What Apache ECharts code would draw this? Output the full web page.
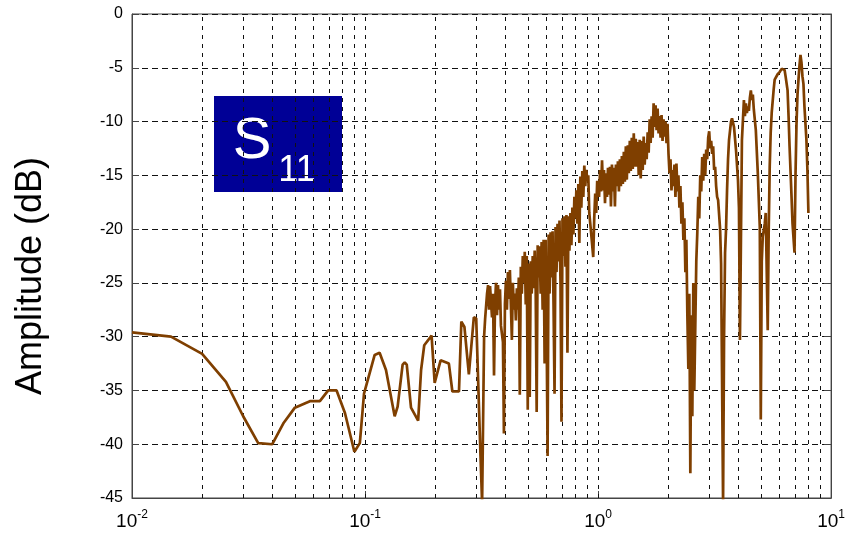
<!DOCTYPE html>
<html>
<head>
<meta charset="utf-8">
<script src="https://cdn.jsdelivr.net/npm/echarts@6/dist/echarts.min.js"></script>
<style>
  html, body { margin: 0; padding: 0; background: #fff; }
  #chart { width: 848px; height: 533px; }
</style>
</head>
<body>
<div id="chart"></div>
<script>
// frequency (log axis) and S11 amplitude in dB, in three stretches
const freqLow = [
  0.01, 0.0147, 0.02, 0.0253, 0.03, 0.0348, 0.04, 0.0448, 0.05, 0.058,
  0.064, 0.0695, 0.0755, 0.082, 0.09, 0.095, 0.099, 0.11, 0.1155, 0.123,
  0.134, 0.138, 0.145, 0.148, 0.151, 0.1575, 0.169, 0.174, 0.1795, 0.193,
  0.199, 0.211, 0.229, 0.237, 0.253, 0.259, 0.267, 0.279, 0.293, 0.300,
  0.313
];
const s11Low = [
  -29.6, -30.0, -31.6, -34.2, -37.4, -39.9, -40.0, -38.0, -36.6, -36.0,
  -36.0, -35.0, -35.0, -37.1, -40.7, -39.9, -35.3, -31.7, -31.5, -33.1,
  -37.4, -36.5, -32.6, -32.4, -32.6, -36.6, -37.8, -33.1, -30.8, -29.9,
  -34.3, -32.2, -32.5, -35.1, -35.1, -28.6, -29.1, -33.5, -28.2, -28.3,
  -41.1
];
const freqMid = [
  0.318, 0.3243, 0.3275, 0.3339, 0.3373, 0.3406, 0.3439, 0.3507, 0.3542, 0.3577,
  0.3612, 0.3648, 0.3684, 0.3720, 0.3757, 0.3794, 0.3831, 0.3907, 0.3945, 0.3984,
  0.4023, 0.4063, 0.4103, 0.4143, 0.4184, 0.4225, 0.4267, 0.4309, 0.4352, 0.4395,
  0.4438, 0.4482, 0.4526, 0.4570, 0.4615, 0.4661, 0.4707, 0.4753, 0.4800, 0.4847,
  0.4895, 0.4943, 0.4992, 0.5041, 0.5091, 0.5141, 0.5192, 0.5243, 0.5294, 0.5346,
  0.5399, 0.5452, 0.5506, 0.5560, 0.5615, 0.5670, 0.5726, 0.5783, 0.5840, 0.5897,
  0.5955, 0.6014, 0.6073, 0.6134, 0.6194, 0.6255, 0.6316, 0.6379, 0.6441, 0.6505,
  0.6569, 0.6634, 0.6699, 0.6765, 0.6832, 0.6899, 0.6967, 0.7036, 0.7105, 0.7175,
  0.7245, 0.7317, 0.7389, 0.7462, 0.7535, 0.7609, 0.7684, 0.7760, 0.7837, 0.7914,
  0.7992, 0.8070, 0.8150, 0.8230, 0.8311, 0.8393, 0.8476, 0.8560, 0.8644, 0.8729,
  0.8815, 0.8902, 0.8990, 0.9078, 0.9168, 0.9349, 0.9534, 0.9628, 0.9723, 0.9818,
  0.9915
];
const s11Mid = [
  -45.5, -30.0, -28.4, -26.0, -25.2, -27.5, -25.3, -28.2, -26.0, -33.6,
  -27.0, -25.0, -28.0, -25.2, -27.5, -25.6, -29.0, -30.5, -39.0, -27.0,
  -24.8, -27.5, -24.0, -26.5, -23.8, -27.0, -30.3, -25.0, -27.5, -26.0,
  -28.5, -25.5, -27.5, -24.5, -35.4, -23.5, -26.0, -22.5, -25.0, -22.1,
  -27.0, -22.5, -36.8, -23.2, -35.6, -23.0, -26.0, -22.5, -25.5, -22.0,
  -25.6, -37.0, -21.5, -24.5, -21.6, -26.0, -21.2, -27.5, -21.0, -32.5,
  -21.0, -29.0, -41.1, -20.5, -26.0, -20.3, -24.5, -20.2, -27.0, -35.3,
  -19.8, -24.0, -19.5, -23.0, -19.2, -25.0, -37.9, -19.0, -22.5, -18.8,
  -23.5, -18.7, -31.5, -18.8, -22.0, -18.5, -21.5, -18.0, -20.5, -17.0,
  -19.0, -16.4, -19.5, -15.8, -21.3, -15.1, -18.0, -14.6, -17.0, -14.1,
  -16.0, -14.5, -15.4, -15.0, -18.5, -20.5, -22.6, -19.0, -16.7, -18.5,
  -15.5
];
const freqHigh = [
  1.0098, 1.0198, 1.0299, 1.0400, 1.0502, 1.0605, 1.0710, 1.0815, 1.0922, 1.1029,
  1.1138, 1.1248, 1.1359, 1.1470, 1.1583, 1.1697, 1.1813, 1.1929, 1.2047, 1.2166,
  1.2285, 1.2406, 1.2528, 1.2652, 1.2776, 1.2902, 1.3030, 1.3158, 1.3287, 1.3418,
  1.3550, 1.3684, 1.3819, 1.3955, 1.4092, 1.4231, 1.4371, 1.4513, 1.4656, 1.4800,
  1.4946, 1.5094, 1.5242, 1.5393, 1.5544, 1.5697, 1.5852, 1.6008, 1.6166, 1.6325,
  1.6486, 1.6649, 1.6813, 1.6978, 1.7146, 1.7314, 1.7485, 1.7657, 1.7831, 1.8007,
  1.8185, 1.8364, 1.8545, 1.8727, 1.8912, 1.9098, 1.9286, 1.9476, 1.9668, 1.9862,
  2.0058, 2.0255, 2.0455, 2.0656, 2.0859, 2.1065, 2.1272, 2.1482, 2.1694, 2.1908,
  2.2124, 2.2342, 2.2562, 2.2784, 2.3009, 2.3235, 2.3464, 2.3696, 2.3929, 2.4165,
  2.4403, 2.4643, 2.4886, 2.5131, 2.5379, 2.5629, 2.5881, 2.6137, 2.6395, 2.6654,
  2.6917, 2.7182, 2.7450, 2.7720, 2.7993, 2.8269, 2.8548, 2.8829, 2.9113, 2.9400,
  2.9690, 2.9982, 3.0278, 3.0576, 3.0877, 3.1181, 3.1488, 3.1799, 3.2112, 3.2428,
  3.2748, 3.3396, 3.3725, 3.4393, 3.4732, 3.5074, 3.5420, 3.5768, 3.6121, 3.6477,
  3.7199, 3.7566, 3.8311, 3.9068, 3.9841, 4.0234, 4.0630, 4.1031, 4.1435, 4.2255,
  4.2672, 4.3093, 4.3517, 4.3946, 4.4379, 4.4816, 4.5257, 4.5703, 4.6153, 4.6608,
  4.7531, 4.8472, 4.9433, 4.9919, 5.0411, 5.0908, 5.1916, 5.2427, 5.3466, 5.3992,
  5.4524, 5.5061, 5.5603, 5.6705, 5.7264, 5.8973, 6.0141, 6.1333, 6.3162, 6.3785,
  6.5049, 6.5688, 6.6337, 6.7650, 6.8315, 6.9668, 7.0355, 7.1047, 7.1749, 7.2454,
  7.3168, 7.3889, 7.4618, 7.5352, 7.6095, 7.6844, 7.8366, 7.9139, 7.9917
];
const s11High = [
  -17.0, -14.5, -16.5, -13.6, -16.4, -14.5, -17.6, -14.8, -17.0, -14.3,
  -16.8, -14.2, -17.9, -14.0, -16.5, -14.3, -17.9, -14.0, -16.0, -13.7,
  -16.5, -13.5, -16.0, -13.2, -15.8, -12.8, -15.6, -12.3, -15.4, -12.2,
  -14.8, -11.8, -14.6, -11.5, -14.4, -11.1, -14.2, -11.6, -14.2, -11.9,
  -15.0, -11.7, -15.3, -11.8, -14.5, -11.4, -14.0, -12.0, -13.5, -11.0,
  -12.9, -9.8, -12.0, -9.5, -11.5, -8.3, -10.5, -8.5, -10.8, -8.8,
  -11.1, -9.5, -11.5, -9.4, -11.8, -9.8, -11.4, -10.0, -12.0, -10.2,
  -13.0, -14.8, -13.5, -16.4, -14.5, -16.0, -14.0, -17.0, -13.9, -16.5,
  -15.0, -18.0, -16.0, -19.5, -17.5, -21.0, -19.0, -24.0, -21.0, -28.0,
  -33.0, -26.0, -42.7, -28.0, -37.4, -25.0, -35.0, -34.9, -23.0, -20.4,
  -17.0, -19.0, -15.0, -16.5, -13.3, -15.5, -13.0, -15.0, -12.6, -13.5,
  -11.5, -10.9, -12.5, -11.8, -13.0, -12.3, -14.5, -14.2, -16.0, -17.0,
  -17.3, -20.0, -23.2, -45.5, -30.0, -22.2, -20.0, -16.4, -13.5, -11.7,
  -10.0, -9.7, -10.5, -12.6, -15.4, -18.0, -30.3, -21.0, -11.7, -8.0,
  -9.5, -8.3, -9.2, -8.6, -9.0, -7.8, -7.1, -8.0, -7.5, -8.9,
  -10.8, -14.8, -19.8, -37.7, -23.0, -20.7, -19.5, -18.5, -29.4, -20.0,
  -14.2, -11.0, -9.2, -7.0, -6.1, -5.6, -5.4, -5.1, -5.2, -5.8,
  -7.1, -9.5, -12.3, -17.0, -19.5, -22.2, -15.0, -10.2, -7.5, -6.1,
  -4.8, -3.8, -4.5, -5.8, -6.5, -8.6, -11.7, -14.5, -18.5
];
// vertical grid lines (log minor + decade lines)
const gridFreqs = [
  0.02, 0.03, 0.04, 0.05, 0.06, 0.07, 0.08, 0.09, 0.1,
  0.2, 0.3, 0.4, 0.5, 0.6, 0.7, 0.8, 0.9, 1,
  2, 3, 4, 5, 6, 7, 8, 9
];

const font = 'Liberation Sans, Arial, sans-serif';
const freq = freqLow.concat(freqMid, freqHigh);
const s11 = s11Low.concat(s11Mid, s11High);
const points = freq.map((f, i) => [f, s11[i]]);

const chart = echarts.init(document.getElementById('chart'));

const yAxisBase = {
  type: 'value',
  min: -45,
  max: 0,
  interval: 5,
  axisLine: { show: true, lineStyle: { color: '#444', width: 1 } },
  axisTick: { show: true, inside: true, length: 7, lineStyle: { color: '#444' } }
};

const option = {
  animation: false,
  backgroundColor: '#fff',
  grid: {
    left: 132, right: 11, top: 14, bottom: 35,
    show: true, borderColor: '#444', borderWidth: 1
  },
  xAxis: {
    type: 'log',
    logBase: 10,
    min: 0.01,
    max: 10,
    axisLine: { show: true, onZero: false, lineStyle: { color: '#444', width: 1 } },
    axisTick: { show: true, inside: true, length: 7, lineStyle: { color: '#444' } },
    splitLine: { show: false },
    axisLabel: {
      margin: 11,
      showMinLabel: true,
      showMaxLabel: true,
      formatter: v => '{b|10}{s|' + Math.round(Math.log10(v)) + '}',
      rich: {
        b: { fontSize: 19, fontFamily: font, color: '#000', lineHeight: 22, verticalAlign: 'bottom' },
        s: { fontSize: 12, fontFamily: font, color: '#000', lineHeight: 12, verticalAlign: 'top' }
      }
    }
  },
  yAxis: [
    Object.assign({}, yAxisBase, {
      position: 'left',
      axisLabel: { fontSize: 16, fontFamily: font, color: '#000', margin: 9 },
      splitLine: { show: true, lineStyle: { color: '#111', type: [6, 4], width: 1 } }
    }),
    Object.assign({}, yAxisBase, {
      position: 'right',
      axisLabel: { show: false },
      splitLine: { show: false }
    })
  ],
  graphic: [
    { type: 'rect', left: 214, top: 96, shape: { width: 128, height: 96 }, style: { fill: '#000096' } },
    { type: 'text', x: 252, y: 142, style: { text: 'S', fill: '#fff', font: '58px ' + font, align: 'center', verticalAlign: 'middle' } },
    { type: 'text', x: 297, y: 171, style: { text: '11', fill: '#fff', font: '36px ' + font, align: 'center', verticalAlign: 'middle' } },
    { type: 'text', x: 31, y: 276, rotation: Math.PI / 2,
      style: { text: 'Amplitude (dB)', fill: '#000', font: '36px ' + font, align: 'center', verticalAlign: 'middle' } }
  ],
  series: [
    {
      name: 'S11',
      type: 'line',
      data: points,
      showSymbol: false,
      smooth: false,
      sampling: 'none',
      clip: true,
      z: 3,
      lineStyle: { color: '#7f3f00', width: 2.7 },
      markLine: {
        silent: true,
        z: 1,
        symbol: 'none',
        animation: false,
        label: { show: false },
        emphasis: { disabled: true },
        lineStyle: { color: '#111', type: [4, 5], width: 1 },
        data: gridFreqs.map(f => ({ xAxis: f }))
      }
    }
  ]
};

chart.setOption(option);
window.onresize = () => chart.resize();
</script>
</body>
</html>
